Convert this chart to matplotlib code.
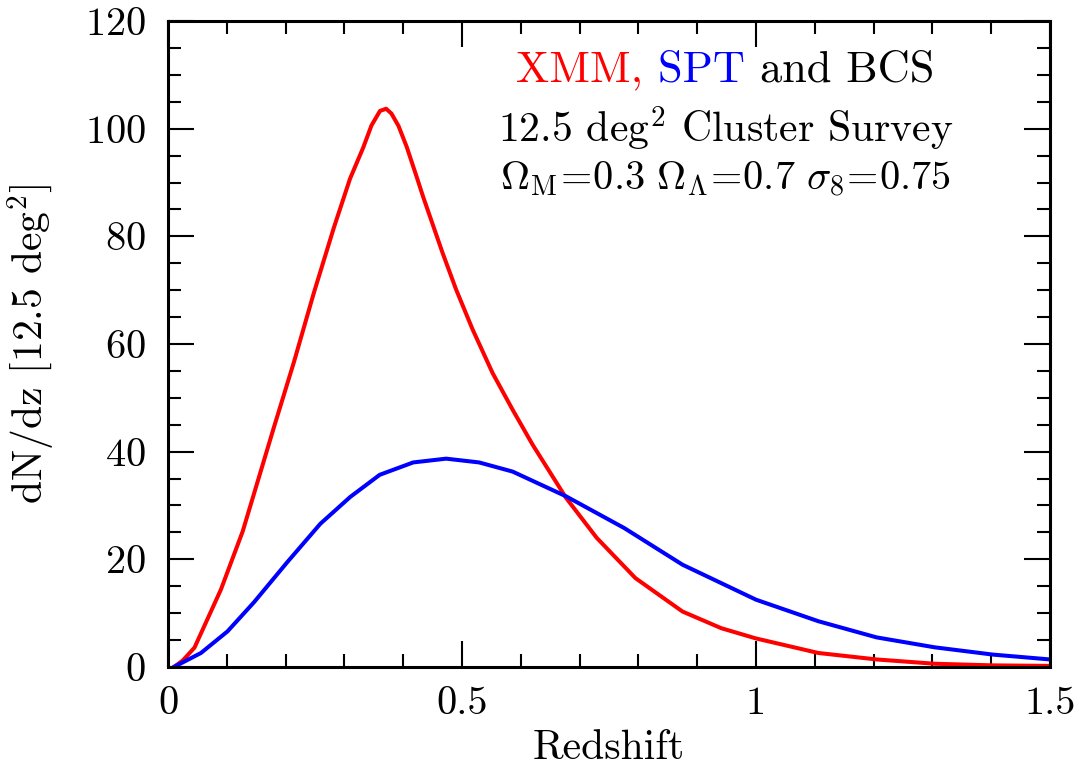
import numpy as np
import matplotlib
matplotlib.use('Agg')
from matplotlib import pyplot as plt
from matplotlib.ticker import MultipleLocator

plt.rcParams['font.family'] = ['cmr10', 'DejaVu Serif']
plt.rcParams['mathtext.fontset'] = 'cm'
plt.rcParams['axes.unicode_minus'] = False
plt.rcParams['axes.formatter.use_mathtext'] = True

# XMM (red) curve
z_xmm = [0.01, 0.025, 0.045, 0.09, 0.127, 0.152, 0.18, 0.214, 0.248, 0.282, 0.3095,
         0.332, 0.346, 0.3605, 0.371, 0.380, 0.392, 0.406, 0.423, 0.434, 0.467, 0.49,
         0.518, 0.552, 0.586, 0.62, 0.677, 0.729, 0.795, 0.875, 0.941, 1.0, 1.106,
         1.205, 1.304, 1.403, 1.5]
n_xmm = [0.0, 1.2, 3.6, 14.4, 25.2, 34.3, 44.5, 56.6, 69.5, 81.6, 90.7,
         96.5, 100.6, 103.3, 103.7, 102.8, 100.5, 96.6, 91.0, 87.3, 76.9, 70.1,
         62.7, 54.6, 47.8, 41.3, 31.4, 24.0, 16.5, 10.3, 7.2, 5.3, 2.6,
         1.4, 0.6, 0.3, 0.2]

# SPT/BCS (blue) curve
z_spt = [0.01, 0.056, 0.101, 0.146, 0.203, 0.259, 0.31, 0.36, 0.417, 0.473, 0.529,
         0.586, 0.677, 0.776, 0.875, 1.0, 1.106, 1.205, 1.304, 1.403, 1.5]
n_spt = [0.0, 2.6, 6.6, 12.0, 19.5, 26.6, 31.6, 35.7, 38.0, 38.7, 38.0,
         36.3, 31.7, 25.8, 19.0, 12.5, 8.5, 5.5, 3.65, 2.3, 1.4]

fig = plt.figure(figsize=(10.89, 7.67), dpi=100)
ax = fig.add_axes([0.1543, 0.1304, 0.8099, 0.8422])

ax.plot(z_xmm, n_xmm, color='#ff0000', lw=2.9, solid_joinstyle='round')
ax.plot(z_spt, n_spt, color='#0000ff', lw=2.9, solid_joinstyle='round')

ax.set_xlim(0, 1.5)
ax.set_ylim(0, 120)
ax.xaxis.set_major_locator(MultipleLocator(0.5))
ax.xaxis.set_minor_locator(MultipleLocator(0.1))
ax.yaxis.set_major_locator(MultipleLocator(20))
ax.yaxis.set_minor_locator(MultipleLocator(5))
ax.set_xticks([0, 0.5, 1, 1.5])
ax.set_xticklabels(['0', '0.5', '1', '1.5'])
ax.tick_params(which='both', direction='in', top=True, right=True, width=1.5,
               labelsize=29)
ax.tick_params(which='major', length=19, pad=14)
ax.tick_params(which='minor', length=9.5)
ax.tick_params(axis='y', pad=16)
for s in ax.spines.values():
    s.set_linewidth(2.2)

ax.set_xlabel('Redshift', fontsize=30, labelpad=5)
ax.set_ylabel(r'dN/dz [12.5 deg$^2$]', fontsize=30, labelpad=20)

# multicolour title line
fig.canvas.draw()
r = fig.canvas.get_renderer()
parts = [('XMM, ', '#ff0000'), ('SPT ', '#0000ff'), ('and BCS', 'black')]
objs = []
for txt, c in parts:
    objs.append(ax.text(0, 0, txt, color=c, fontsize=32, transform=None))
widths = [o.get_window_extent(r).width for o in objs]
x0 = 725 - sum(widths) / 2
ytop = 767 - 70
for o, w in zip(objs, widths):
    o.set_position((x0, ytop))
    o.set_va('center')
    x0 += w

ax.text(0.632, 0.833, r'12.5 deg$^2$ Cluster Survey', transform=ax.transAxes,
        ha='center', va='center', fontsize=30)
ax.text(0.632, 0.755,
        r'$\Omega_{\rm M}\!=\!0.3\ \Omega_\Lambda\!=\!0.7\ \sigma_8\!=\!0.75$',
        transform=ax.transAxes, ha='center', va='center', fontsize=29)

fig.savefig('out.png', dpi=100)
